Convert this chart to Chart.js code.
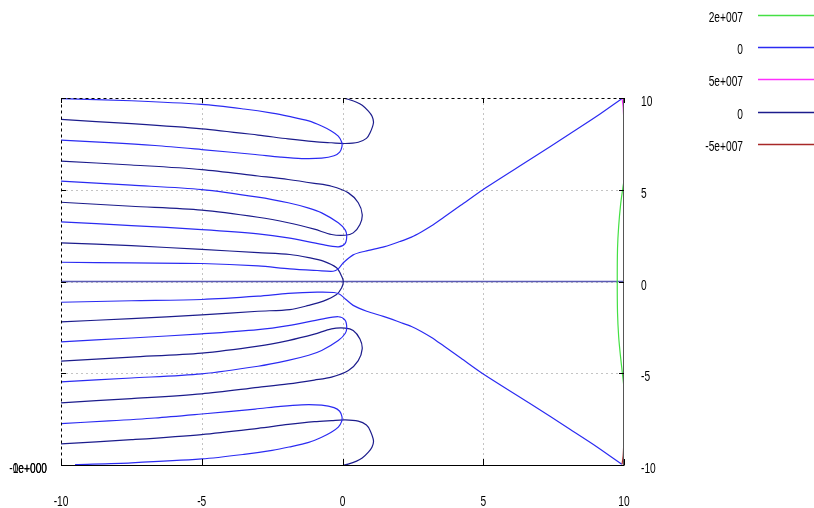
<!DOCTYPE html>
<html>
<head>
<meta charset="utf-8">
<script src="https://cdn.jsdelivr.net/npm/chart.js@4/dist/chart.umd.min.js"></script>
<style>
  html, body { margin: 0; padding: 0; background: #fff; }
  #wrap { width: 814px; height: 508px; }
</style>
</head>
<body>
<div id="wrap"><canvas id="contour"></canvas></div>
<script>
const xTicks = [-10, -5, 0, 5, 10];
const yTicks = [-10, -5, 0, 5, 10];
const legendLabels = ["2e+007", "0", "5e+007", "0", "-5e+007"];
const legendColors = ["#44e044", "#2b2bf2", "#ff30ff", "#1c1c8c", "#a82828"];
const zLabels = ["-1e+000", "0e+000"];

// level 2e+007
const green2e7 = [[10, 5.5], [9.95, 5.0], [9.88, 4.2], [9.81, 3.0], [9.77, 1.8], [9.76, 0], [9.77, -1.7], [9.81, -3.0], [9.87, -4.0], [9.95, -5.1], [10, -5.8]];
// level 5e+007 / -5e+007
const magenta5e7 = [[9.93, 9.97], [9.97, 9.5], [9.99, 8.9]];
const red5e7 = [[9.93, -9.97], [9.97, -9.5], [9.99, -8.9]];

// level 0, first function (blue)
const blueTopLoop = [[-10, 9.97], [-7.5, 9.85], [-5, 9.65], [-3.5, 9.4], [-2.5, 9.18], [-1.9, 9.0], [-1.2, 8.75], [-0.74, 8.47], [-0.4, 8.2], [-0.15, 7.92], [-0.03, 7.6], [-0.02, 7.35], [-0.1, 7.05], [-0.3, 6.85], [-0.74, 6.72], [-1.45, 6.7], [-2.2, 6.78], [-3.1, 6.92], [-5, 7.19], [-6.66, 7.41], [-8.3, 7.57], [-10, 7.7]];
const blueMidLoop = [[-10, 5.47], [-7.5, 5.25], [-5, 5.01], [-3, 4.6], [-1.93, 4.29], [-1.2, 4.0], [-0.74, 3.74], [-0.15, 3.2], [0.1, 2.8], [0.15, 2.47], [0.09, 2.07], [-0.15, 1.89], [-0.74, 2.02], [-1.93, 2.38], [-3, 2.6], [-5, 2.83], [-7.5, 3.05], [-10, 3.25]];
const blueUpperDiag = [[-10, 1.05], [-7.5, 1.01], [-5, 0.98], [-3, 0.85], [-1.87, 0.69], [-0.9, 0.6], [-0.33, 0.56], [-0.15, 0.69], [0.03, 1.02], [0.38, 1.45], [0.8, 1.65], [1.5, 1.9], [2.04, 2.18], [2.45, 2.42], [2.8, 2.7], [3.15, 3.02], [3.6, 3.5], [4.2, 4.15], [5, 5.02], [6.66, 6.65], [8.08, 8.05], [9.03, 9.0], [9.92, 9.96]];
const blueLowerDiag = [[-10, -1.13], [-7.5, -1.05], [-5, -0.98], [-3, -0.8], [-1.93, -0.65], [-0.9, -0.58], [-0.3, -0.6], [-0.1, -0.7], [0.1, -0.95], [0.38, -1.3], [0.86, -1.62], [1.45, -1.9], [2.04, -2.22], [2.45, -2.45], [2.8, -2.72], [3.15, -3.04], [3.6, -3.52], [4.2, -4.17], [5, -5.04], [6.66, -6.65], [8.08, -8.05], [9.03, -9.0], [9.92, -9.96]];
const blueMidLoopLow = [[-10, -3.29], [-7.5, -3.08], [-5, -2.85], [-3, -2.62], [-1.93, -2.4], [-0.74, -2.05], [-0.15, -1.92], [0.09, -2.1], [0.15, -2.5], [0.1, -2.82], [-0.15, -3.22], [-0.74, -3.76], [-1.2, -4.02], [-1.93, -4.3], [-3, -4.62], [-5, -5.03], [-7.5, -5.26], [-10, -5.47]];
const blueBottomLoop = [[-10, -7.74], [-8.3, -7.6], [-6.66, -7.44], [-5, -7.22], [-3.1, -6.95], [-2.2, -6.8], [-1.45, -6.72], [-0.74, -6.74], [-0.3, -6.87], [-0.1, -7.07], [-0.02, -7.37], [-0.03, -7.62], [-0.15, -7.94], [-0.4, -8.22], [-0.74, -8.49], [-1.2, -8.77], [-1.9, -9.02], [-2.5, -9.2], [-3.5, -9.42], [-5, -9.67], [-7.5, -9.88], [-9.5, -9.98]];

// level 0, second function (dark blue)
const darkTopArc = [[-10, 8.83], [-7.5, 8.6], [-5, 8.32], [-3, 7.98], [-1.93, 7.77], [-1, 7.62], [-0.39, 7.56], [0.09, 7.52], [0.56, 7.59], [0.85, 7.8], [0.98, 8.1], [1.1, 8.65], [1.05, 9.0], [0.92, 9.28], [0.7, 9.6], [0.5, 9.77], [0.2, 9.93], [0.03, 10]];
const darkUpperLoop = [[-10, 6.56], [-7.5, 6.35], [-5, 6.1], [-3, 5.75], [-1.93, 5.56], [-1, 5.35], [-0.39, 5.19], [0.21, 4.83], [0.56, 4.29], [0.7, 3.65], [0.62, 3.11], [0.38, 2.65], [0.09, 2.52], [-0.39, 2.56], [-1, 2.85], [-1.93, 3.2], [-3, 3.5], [-5, 3.89], [-7.5, 4.1], [-10, 4.32]];
const darkCenter = [[-10, 2.11], [-7.5, 1.95], [-5, 1.75], [-3, 1.57], [-1.87, 1.47], [-1.2, 1.3], [-0.68, 1.11], [-0.21, 0.75], [-0.03, 0.29], [0.03, 0], [-0.03, -0.34], [-0.21, -0.71], [-0.68, -1.07], [-1.2, -1.3], [-1.87, -1.53], [-3, -1.62], [-5, -1.82], [-7.5, -2.02], [-10, -2.2]];
const darkLowerLoop = [[-10, -4.34], [-7.5, -4.12], [-5, -3.9], [-3, -3.52], [-1.93, -3.22], [-1, -2.87], [-0.39, -2.58], [0.09, -2.54], [0.38, -2.67], [0.62, -3.13], [0.7, -3.67], [0.56, -4.31], [0.21, -4.85], [-0.39, -5.21], [-1, -5.37], [-1.93, -5.58], [-3, -5.77], [-5, -6.12], [-7.5, -6.38], [-10, -6.61]];
const darkBottomArc = [[-10, -8.85], [-7.5, -8.62], [-5, -8.34], [-3, -8.0], [-1.93, -7.79], [-1, -7.64], [-0.39, -7.58], [0.09, -7.54], [0.56, -7.61], [0.85, -7.82], [0.98, -8.12], [1.1, -8.67], [1.05, -9.02], [0.92, -9.3], [0.7, -9.62], [0.5, -9.79], [0.2, -9.95], [0.03, -10]];
const zeroAxis = [[-10, 0], [10, 0]];

const curves = [
  [green2e7, 0], [magenta5e7, 2], [red5e7, 4],
  [blueTopLoop, 1], [blueMidLoop, 1], [blueUpperDiag, 1], [blueLowerDiag, 1], [blueMidLoopLow, 1], [blueBottomLoop, 1],
  [darkTopArc, 3], [darkUpperLoop, 3], [darkCenter, 3], [darkLowerLoop, 3], [darkBottomArc, 3]
];

const datasets = curves.map(([pts, s]) => ({
  data: pts.map(p => ({ x: p[0], y: p[1] })),
  borderColor: legendColors[s],
  borderWidth: 1.2,
  tension: 0.3
}));
datasets.push({ data: zeroAxis.map(p => ({ x: p[0], y: p[1] })), borderColor: "#5a5ab4", borderWidth: 1.6, tension: 0 });

const FONT = '15px "Liberation Sans", Arial, sans-serif';

function seg(ctx, x1, y1, x2, y2) {
  ctx.beginPath(); ctx.moveTo(x1, y1); ctx.lineTo(x2, y2); ctx.stroke();
}

// gnuplot's narrow terminal font
function narrowText(ctx, txt, x, y, align) {
  ctx.save();
  ctx.translate(x, y);
  ctx.scale(0.68, 1);
  ctx.textAlign = align;
  ctx.fillText(txt, 0, 0);
  ctx.restore();
}

const frame = {
  id: "frame",
  beforeDatasetsDraw(chart) {
    const { ctx, chartArea: a, scales: { x, y } } = chart;
    ctx.save();
    ctx.strokeStyle = "#c4c4c4";
    ctx.lineWidth = 1;
    ctx.setLineDash([2, 3]);
    xTicks.slice(1, -1).forEach(v => {
      const px = Math.round(x.getPixelForValue(v)) + 0.5;
      seg(ctx, px, a.top, px, a.bottom);
    });
    yTicks.slice(1, -1).forEach(v => {
      const py = Math.round(y.getPixelForValue(v)) + 0.5;
      seg(ctx, a.left, py, a.right, py);
    });
    ctx.restore();
  },
  afterDatasetsDraw(chart) {
    const { ctx, chartArea: a, scales: { x, y } } = chart;
    const L = a.left + 0.5, R = a.right - 0.5, T = a.top + 0.5, B = a.bottom + 0.5;
    ctx.save();
    ctx.lineWidth = 1;
    ctx.strokeStyle = "#000";
    ctx.setLineDash([3, 3]);
    seg(ctx, L, T, R, T);
    seg(ctx, L, T, L, B);
    ctx.setLineDash([]);
    seg(ctx, L, B, R + 1, B);
    ctx.strokeStyle = "#555";
    seg(ctx, R, T, R, B);
    ctx.strokeStyle = "#000";
    xTicks.forEach(v => {
      const px = Math.round(x.getPixelForValue(v)) + 0.5;
      seg(ctx, px, a.top, px, a.top + 5);
      seg(ctx, px, a.bottom, px, a.bottom - 6);
    });
    yTicks.forEach(v => {
      const py = Math.round(y.getPixelForValue(v)) + 0.5;
      seg(ctx, a.left, py, a.left + 5, py);
      seg(ctx, a.right, py, a.right - 5, py);
    });

    ctx.font = FONT;
    ctx.fillStyle = "#000";
    ctx.textBaseline = "middle";
    xTicks.forEach(v => narrowText(ctx, String(v), x.getPixelForValue(v), a.bottom + 37, "center"));
    yTicks.forEach(v => narrowText(ctx, String(v), a.right + 17, y.getPixelForValue(v) + 4, "left"));

    // key
    legendLabels.forEach((t, i) => {
      const ly = Math.round(15 + i * 32.2);
      narrowText(ctx, t, 743, ly + 3, "right");
    });
    ctx.lineWidth = 1.4;
    legendLabels.forEach((t, i) => {
      const ly = Math.round(15 + i * 32.2);
      ctx.strokeStyle = legendColors[i];
      seg(ctx, 758, ly + 0.5, 814, ly + 0.5);
    });
    // overprinted z labels
    zLabels.forEach(t => narrowText(ctx, t, 47, a.bottom + 4, "right"));
    ctx.restore();
  }
};

new Chart(document.getElementById("contour"), {
  type: "scatter",
  data: { datasets },
  plugins: [frame],
  options: {
    responsive: true,
    maintainAspectRatio: false,
    animation: false,
    layout: { padding: { left: 61, top: 98, right: 0, bottom: 0 } },
    elements: { point: { radius: 0, hoverRadius: 0 } },
    showLine: true,
    plugins: { legend: { display: false }, tooltip: { enabled: false } },
    scales: {
      x: {
        type: "linear", position: "bottom", min: -10, max: 10,
        afterBuildTicks: s => { s.ticks = xTicks.map(v => ({ value: v })); },
        afterFit: s => { s.height = 43; },
        grid: { display: false, drawTicks: false },
        border: { display: false },
        ticks: { display: false }
      },
      y: {
        type: "linear", position: "right", min: -10, max: 10,
        afterBuildTicks: s => { s.ticks = yTicks.map(v => ({ value: v })); },
        afterFit: s => { s.width = 190; },
        grid: { display: false, drawTicks: false },
        border: { display: false },
        ticks: { display: false }
      }
    }
  }
});
</script>
</body>
</html>
